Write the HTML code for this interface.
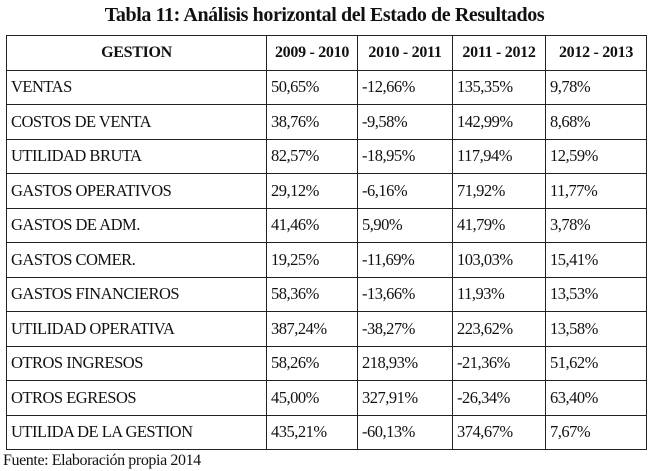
<!DOCTYPE html>
<html><head><meta charset="utf-8"><style>
body{margin:0;width:649px;height:471px;background:#fff;position:relative;font-family:"Liberation Serif",serif;color:#111;overflow:hidden}
.t{position:absolute;left:0;width:649px;top:4px;text-align:center;font-weight:bold;font-size:20px;letter-spacing:-0.4px}
table{position:absolute;left:6px;top:35px;border-collapse:collapse;table-layout:fixed}
td{border:1.5px solid #222;height:33.5px;padding:0 0 0 4px;font-size:16.5px;letter-spacing:-0.5px;white-space:nowrap;line-height:1}
th{border:1.5px solid #222;height:33.5px;font-size:16px;padding:0;letter-spacing:-0.3px;white-space:nowrap}
.f{position:absolute;left:3px;top:452px;font-size:16px;letter-spacing:-0.4px}
</style></head><body>
<div class="t">Tabla 11: Análisis horizontal del Estado de Resultados</div>
<table>
<colgroup><col style="width:260px"><col style="width:91px"><col style="width:95px"><col style="width:93px"><col style="width:101px"></colgroup>
<tr><th>GESTION</th><th>2009 - 2010</th><th>2010 - 2011</th><th>2011 - 2012</th><th>2012 - 2013</th></tr>
<tr><td>VENTAS</td><td>50,65%</td><td>-12,66%</td><td>135,35%</td><td>9,78%</td></tr>
<tr><td>COSTOS DE VENTA</td><td>38,76%</td><td>-9,58%</td><td>142,99%</td><td>8,68%</td></tr>
<tr><td>UTILIDAD BRUTA</td><td>82,57%</td><td>-18,95%</td><td>117,94%</td><td>12,59%</td></tr>
<tr><td>GASTOS OPERATIVOS</td><td>29,12%</td><td>-6,16%</td><td>71,92%</td><td>11,77%</td></tr>
<tr><td>GASTOS DE ADM.</td><td>41,46%</td><td>5,90%</td><td>41,79%</td><td>3,78%</td></tr>
<tr><td>GASTOS COMER.</td><td>19,25%</td><td>-11,69%</td><td>103,03%</td><td>15,41%</td></tr>
<tr><td>GASTOS FINANCIEROS</td><td>58,36%</td><td>-13,66%</td><td>11,93%</td><td>13,53%</td></tr>
<tr><td>UTILIDAD OPERATIVA</td><td>387,24%</td><td>-38,27%</td><td>223,62%</td><td>13,58%</td></tr>
<tr><td>OTROS INGRESOS</td><td>58,26%</td><td>218,93%</td><td>-21,36%</td><td>51,62%</td></tr>
<tr><td>OTROS EGRESOS</td><td>45,00%</td><td>327,91%</td><td>-26,34%</td><td>63,40%</td></tr>
<tr><td>UTILIDA DE LA GESTION</td><td>435,21%</td><td>-60,13%</td><td>374,67%</td><td>7,67%</td></tr>
</table>
<div class="f">Fuente: Elaboración propia 2014</div>
</body></html>
